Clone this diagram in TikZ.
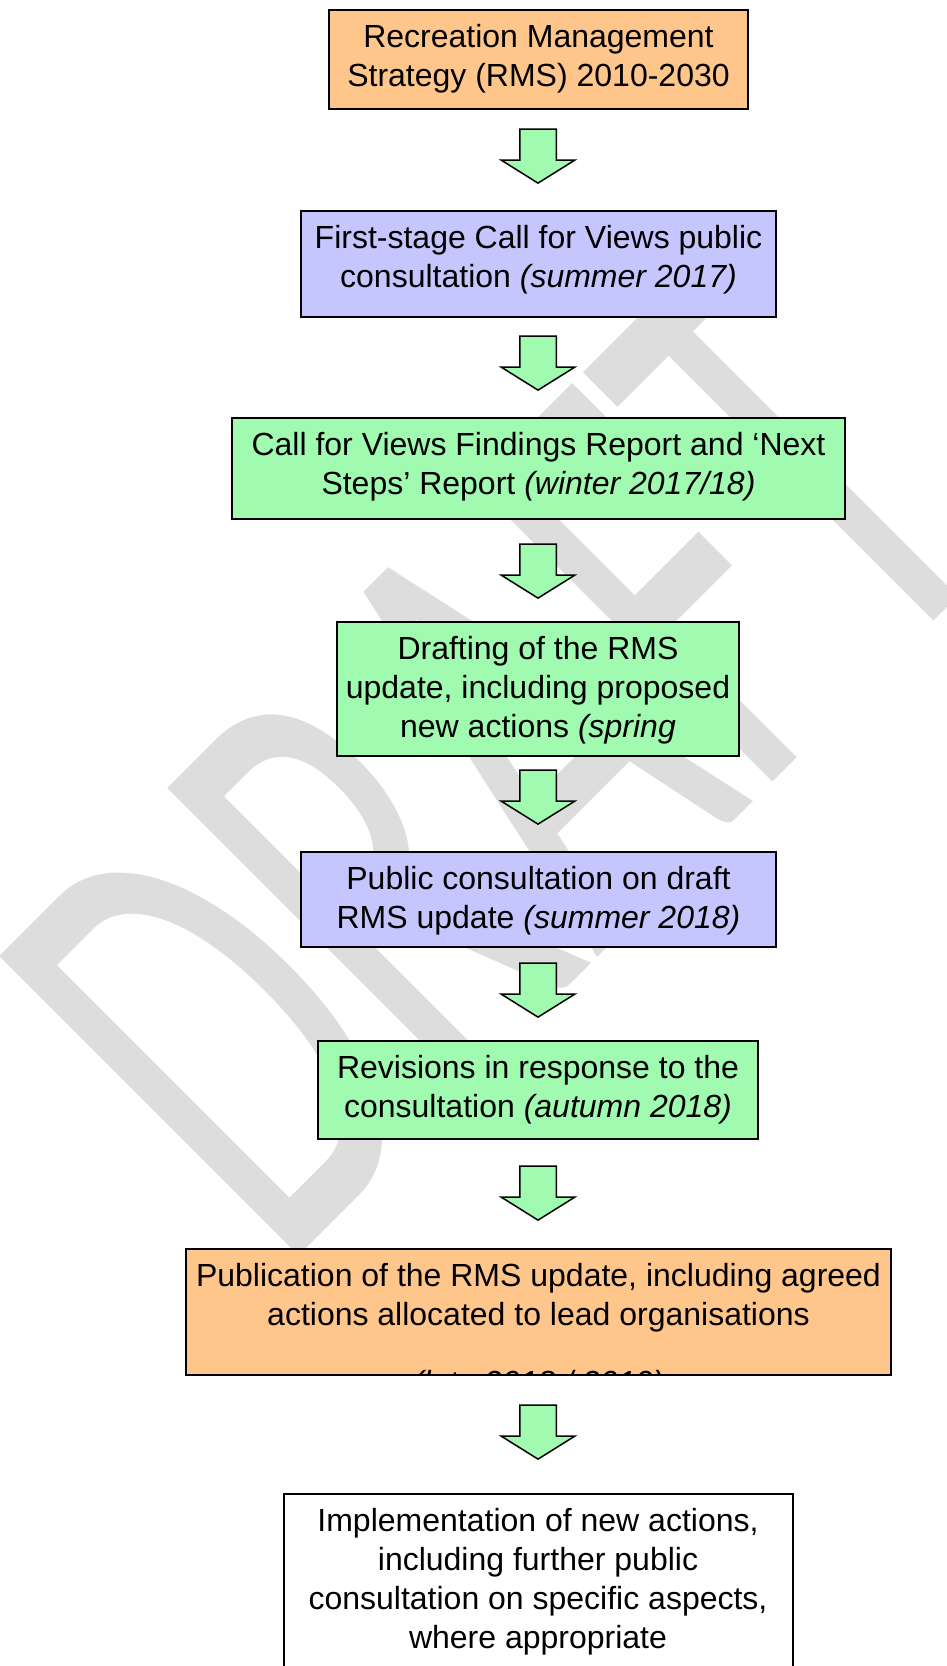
\documentclass[tikz,border=0pt]{standalone}
\usepackage{fontspec}
\setmainfont{Liberation Sans}
\newfontfamily\draftfamily{Carlito}
\usetikzlibrary{shapes.arrows}
\definecolor{stageorange}{RGB}{255,198,140}
\definecolor{stageblue}{RGB}{198,198,255}
\definecolor{stagegreen}{RGB}{160,250,176}
\definecolor{draftgray}{RGB}{221,221,221}
\def\stagefont{\fontsize{32}{39}\selectfont}
\def\stagetext#1#2#3{\parbox[t][#2pt][t]{#1pt}{\stagefont\centering\rule{0pt}{37.5pt}#3}}

\begin{document}
\begin{tikzpicture}[x=1pt, y=-1pt,
		stage/.style={rectangle, draw=black, line width=2pt, inner sep=0pt},
		downarrow/.style={single arrow, draw=black, line width=1.5pt, fill=stagegreen, rotate=-90, anchor=tip,
			minimum height=54pt, inner xsep=0pt, inner ysep=17.5pt, single arrow head extend=18.5pt,
			single arrow tip angle=116, single arrow head indent=0pt},
		draftmark/.style={text=draftgray, font=\draftfamily\fontsize{660}{660}\selectfont, inner sep=0pt,
			anchor=base west, rotate=45, xscale=0.585}]
			%%%%% START %%%%%
			
			\path[use as bounding box, fill=white] (0,0) rectangle (947,1666);
			\clip (0,0) rectangle (947,1666);
			
			\node[draftmark] (draft) at (280,1275) {DRAFT};
			
			\node[stage, fill=stageorange] (rms) at (538.5,59.5) {\stagetext{419}{99}{Recreation Management\\Strategy (RMS) 2010-2030}};
			\node[downarrow] (a1) at (538,184) {};
			
			\node[stage, fill=stageblue] (callviews) at (538.5,264) {\stagetext{475}{106}{First-stage Call for Views public\\consultation \textit{(summer 2017)}}};
			\node[downarrow] (a2) at (538,391) {};
			
			\node[stage, fill=stagegreen] (findings) at (538.5,468) {\stagetext{613}{101}{Call for Views Findings Report and ‘Next\\Steps’ Report \textit{(winter 2017/18)}}};
			\node[downarrow] (a3) at (538,599) {};
			
			\node[stage, fill=stagegreen] (drafting) at (538,689) {\stagetext{402}{134}{Drafting of the RMS\\update, including proposed\\new actions \textit{(spring}}};
			\node[downarrow] (a4) at (538,825) {};
			
			\node[stage, fill=stageblue] (consult) at (538.5,899) {\stagetext{475}{95}{Public consultation on draft\\RMS update \textit{(summer 2018)}}};
			\node[downarrow] (a5) at (538,1018) {};
			
			\node[stage, fill=stagegreen] (revisions) at (538,1090) {\stagetext{440}{98}{Revisions in response to the\\consultation \textit{(autumn 2018)}}};
			\node[downarrow] (a6) at (538,1221) {};
			
			\node[stage, fill=stageorange] (publish) at (538.5,1312) {\stagetext{705}{126}{Publication of the RMS update, including agreed\\actions allocated to lead organisations}};
			\begin{scope}
				\clip ([shift={(1,-1)}]publish.south west) rectangle ([shift={(-1,1)}]publish.north east);
				\node[font=\stagefont\itshape, anchor=base, inner sep=0pt] (publishdate) at (538.5,1393) {(late 2018 / 2019)};
			\end{scope}
			\node[downarrow] (a7) at (538,1460) {};
			
			\node[stage, fill=white] (implement) at (538,1592) {\stagetext{509}{197}{Implementation of new actions,\\including further public\\consultation on specific aspects,\\where appropriate}};
			
			%%%%% END %%%%%
		\end{tikzpicture}
\end{document}
